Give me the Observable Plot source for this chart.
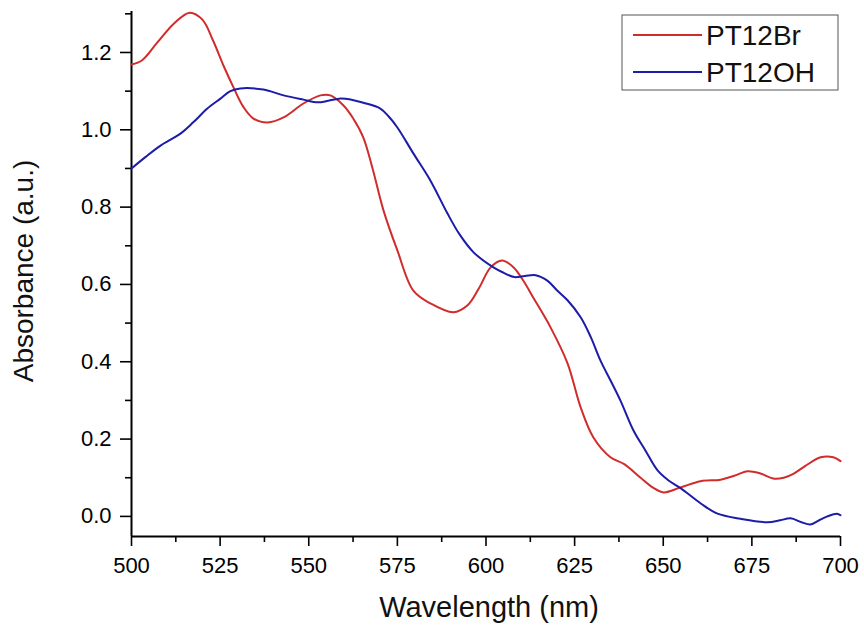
<!DOCTYPE html>
<html><head><meta charset="utf-8">
<script src="https://cdn.jsdelivr.net/npm/d3@7"></script>
<script src="https://cdn.jsdelivr.net/npm/@observablehq/plot@0.6"></script>
<style>body{margin:0;background:#fff} #chart{width:864px;height:628px}</style>
</head><body><div id="chart"></div>
<script>
const seriesNames = ["PT12Br", "PT12OH"];
const seriesColors = ["#d02c2c", "#1c1ca8"];

const wavelengthBr = [500,503,507.3,512,516.4,520,523,526,528.8,531.5,534.4,538.4,542.9,548.5,553.3,556.1,559.8,562.5,565.4,568,571.1,575,579.5,584.3,590.8,594.8,598,601.3,604.5,607.8,610.5,613.4,618.2,623,626.7,630.3,635.1,639,643.6,647,650.1,654.9,660.5,666.2,670,673.8,677.4,681,684,686.7,690,694.4,698,700];
const absorbanceBr = [1.169,1.18,1.226,1.275,1.303,1.285,1.231,1.165,1.109,1.06,1.029,1.019,1.032,1.068,1.089,1.089,1.063,1.03,0.98,0.9,0.791,0.688,0.584,0.551,0.528,0.546,0.59,0.644,0.662,0.644,0.61,0.565,0.489,0.396,0.282,0.204,0.153,0.135,0.1,0.075,0.062,0.075,0.091,0.095,0.105,0.117,0.111,0.098,0.1,0.11,0.13,0.153,0.153,0.143];

const wavelengthOH = [500,504,508.2,513.8,517.5,521.4,525,527.9,530.7,537.2,542.9,548.5,552.5,555.5,559,562,565.4,570.2,572.5,575,579.5,584.3,589.1,592.5,596.5,602.1,605,608,611,614,617.3,620,623,626.7,629.5,632.3,635.1,637.9,641.6,645,648.4,651.5,654.9,660.5,665.3,671.8,679.4,683,685.9,689,691.5,694,696.3,699,700];
const absorbanceOH = [0.9,0.93,0.959,0.99,1.02,1.055,1.08,1.1,1.107,1.104,1.089,1.078,1.071,1.075,1.081,1.078,1.07,1.055,1.035,1.006,0.939,0.869,0.784,0.73,0.683,0.644,0.63,0.619,0.622,0.624,0.61,0.585,0.559,0.515,0.465,0.403,0.352,0.3,0.222,0.17,0.119,0.093,0.073,0.034,0.007,-0.006,-0.015,-0.01,-0.005,-0.015,-0.021,-0.01,0,0.007,0.003];

const xMajorTicks = [500,525,550,575,600,625,650,675,700];
const xMinorTicks = [512.5,537.5,562.5,587.5,612.5,637.5,662.5,687.5];
const yMajorTicks = [0,0.2,0.4,0.6,0.8,1.0,1.2];
const yMinorTicks = [0.1,0.3,0.5,0.7,0.9,1.1,1.3];
const xDomain = [500, 700];
const yDomain = [-0.052, 1.306];
const xTitle = "Wavelength (nm)";
const yTitle = "Absorbance (a.u.)";

const rows = [
  ...wavelengthBr.map((w, i) => ({series: seriesNames[0], w, a: absorbanceBr[i]})),
  ...wavelengthOH.map((w, i) => ({series: seriesNames[1], w, a: absorbanceOH[i]}))
];

const font = "'Liberation Sans', Arial, sans-serif";
const plot = Plot.plot({
  width: 864, height: 628,
  marginLeft: 131, marginRight: 24, marginTop: 11, marginBottom: 92,
  style: {fontFamily: font, fontSize: "22px", color: "#000", background: "#fff", overflow: "visible"},
  x: {domain: xDomain},
  y: {domain: yDomain},
  color: {domain: seriesNames, range: seriesColors},
  marks: [
    Plot.axisX({ticks: xMajorTicks, tickSize: 10, tickPadding: 11, tickFormat: d => String(d), label: null, fontSize: 22, strokeWidth: 1.6}),
    Plot.axisX({ticks: xMinorTicks, tickSize: 6, tickFormat: () => "", label: null, strokeWidth: 1.6}),
    Plot.axisY({ticks: yMajorTicks, tickSize: 11, tickPadding: 9, tickFormat: d3.format(".1f"), label: null, fontSize: 22, strokeWidth: 1.6}),
    Plot.axisY({ticks: yMinorTicks, tickSize: 6, tickFormat: () => "", label: null, strokeWidth: 1.6}),
    Plot.ruleY([yDomain[0]], {stroke: "#000", strokeWidth: 2}),
    Plot.ruleX([xDomain[0]], {stroke: "#000", strokeWidth: 2}),
    Plot.line(rows, {x: "w", y: "a", z: "series", stroke: "series", strokeWidth: 2, curve: "catmull-rom"}),
    Plot.text([xTitle], {text: d => d, frameAnchor: "bottom", textAnchor: "middle", lineAnchor: "middle", dx: 3, dy: 71, fontSize: 29, fill: "#111"}),
    Plot.text([yTitle], {text: d => d, frameAnchor: "left", textAnchor: "middle", lineAnchor: "middle", dx: -107, dy: -3, rotate: -90, fontSize: 28, fill: "#111"})
  ]
});

// Legend drawn inside the plot (top-right), as in the reference
const legend = {x0: 622, y0: 15, w: 216, h: 75, lineX0: 633, lineX1: 702, textX: 706, rowY: [35, 72]};
const svg = d3.select(plot);
const g = svg.append("g").attr("font-family", font).attr("text-anchor", "start");
g.append("rect").attr("x", legend.x0).attr("y", legend.y0).attr("width", legend.w).attr("height", legend.h)
  .attr("fill", "#fff").attr("stroke", "#555").attr("stroke-width", 1);
seriesNames.forEach((name, i) => {
  const y = legend.rowY[i];
  g.append("line").attr("x1", legend.lineX0).attr("x2", legend.lineX1).attr("y1", y).attr("y2", y)
    .attr("stroke", seriesColors[i]).attr("stroke-width", 2);
  g.append("text").attr("x", legend.textX).attr("y", y + 10)
    .style("font-size", "28px").style("text-anchor", "start").attr("fill", "#111").text(name);
});

document.getElementById("chart").appendChild(plot);
</script>
</body></html>
